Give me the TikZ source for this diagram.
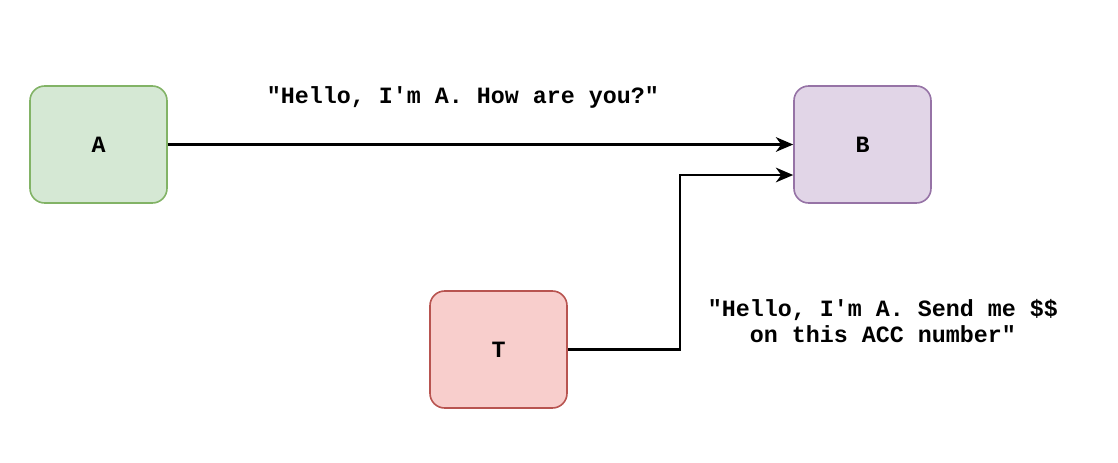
\documentclass[tikz,border=0pt]{standalone}
\usepackage{fontspec}
\setmonofont{Liberation Mono}
\usetikzlibrary{arrows.meta}
\definecolor{agreen}{HTML}{D5E8D4}
\definecolor{agreenline}{HTML}{82B366}
\definecolor{bpurple}{HTML}{E1D5E7}
\definecolor{bpurpleline}{HTML}{9673A6}
\definecolor{tred}{HTML}{F8CECC}
\definecolor{tredline}{HTML}{B85450}

\begin{document}
\begin{tikzpicture}[x=0.75pt, y=-0.75pt,
		party/.style={minimum width=102.75pt, minimum height=87.75pt, rounded corners=11pt, draw, line width=1.2pt, font=\ttfamily\bfseries\fontsize{17.5}{20}\selectfont},
		msg/.style={align=center, font=\ttfamily\bfseries\fontsize{17.5}{20}\selectfont},
		link/.style={line width=1.6pt, -{Stealth[length=13pt, width=11pt, inset=4pt]}}]
		\useasboundingbox (0,0) rectangle (1118,462);

		\draw (98.5,144.5) node[party, fill=agreen, draw=agreenline] (A) {A};
		\draw (862.5,144.5) node[party, fill=bpurple, draw=bpurpleline] (B) {B};
		\draw (498.5,349.5) node[party, fill=tred, draw=tredline] (T) {T};

		\draw (463,97) node[msg] (hello) {"Hello, I'm A. How are you?"};
		\draw (883,321) node[msg] (fake) {"Hello, I'm A. Send me \$\$\\on this ACC number"};

		\coordinate (bend) at (680,175);

		\draw [link] (A.east) -- (B.west);
		\draw [link] (T.east) -| (bend) -- (bend -| B.west);
	\end{tikzpicture}
\end{document}
